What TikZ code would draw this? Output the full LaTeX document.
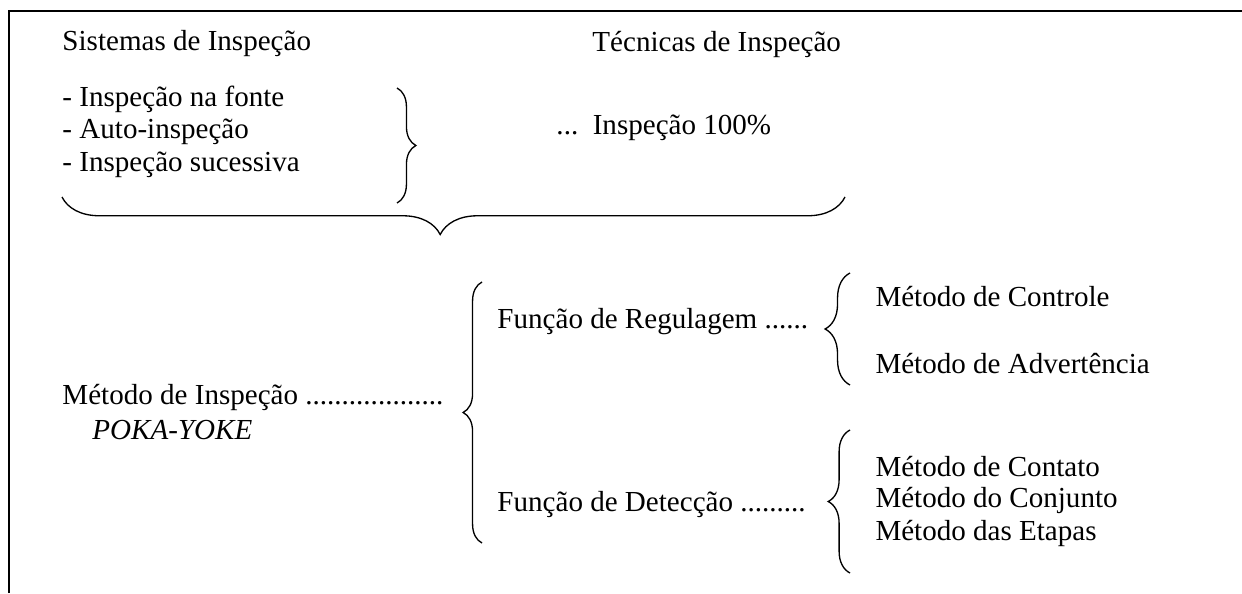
\documentclass[tikz,border=0pt]{standalone}
\usepackage{fontspec}
\setmainfont{Liberation Serif}
\usetikzlibrary{decorations.pathreplacing}
\tikzstyle{sheet} = [x = .413pt, y = -.413pt]
\tikzstyle{label} = [anchor = west, inner sep = 0pt, font = \fontsize{12}{13.8}\selectfont]
\tikzstyle{frameLine} = [line width = .8pt]
\tikzstyle{braceLine} = [decorate, line width = .55pt]
\newcommand{\curlyBrace}[4]{\draw [braceLine, decoration = {brace, amplitude = #3, aspect = #4}] #1 -- #2;}

\begin{document}
\begin{tikzpicture}[sheet]
  \useasboundingbox (0,0) rectangle (1242,593);
  \draw [frameLine] (9,593) |- (1242,11);

  % upper part
  \node [label] (sistemas) at (62,44) {Sistemas de Inspeção};
  \node [label] (tecnicas) at (592,44) {Técnicas de Inspeção};
  \node [label] (fonte) at (62,99) {- Inspeção na fonte};
  \node [label] (auto) at (62,132) {- Auto-inspeção};
  \node [label] (sucessiva) at (62,165) {- Inspeção sucessiva};
  \node [label] (cem) at (556,128) {...\ \ Inspeção 100\%};
  \curlyBrace{(397,88)}{(397,203)}{7.8pt}{0.5}
  \curlyBrace{(845,197)}{(62,197)}{15.5pt}{0.517}

  % lower part
  \node [label] (metodo) at (62,397) {Método de Inspeção ...................};
  \node [label] (poka) at (92,430) {\itshape POKA-YOKE};
  \curlyBrace{(482,543)}{(482,282)}{7.8pt}{0.5}
  \node [label] (regulagem) at (497,322) {Função de Regulagem ......};
  \node [label] (deteccao) at (497,505) {Função de Detecção .........};
  \curlyBrace{(850,385)}{(850,273)}{10.3pt}{0.5}
  \curlyBrace{(850,573)}{(850,430)}{9pt}{0.5}
  \node [label] (controle) at (875,297) {Método de Controle};
  \node [label] (advertencia) at (875,364) {Método de Advertência};
  \node [label] (contato) at (875,467) {Método de Contato};
  \node [label] (conjunto) at (875,500) {Método do Conjunto};
  \node [label] (etapas) at (875,533) {Método das Etapas};
\end{tikzpicture}
\end{document}
